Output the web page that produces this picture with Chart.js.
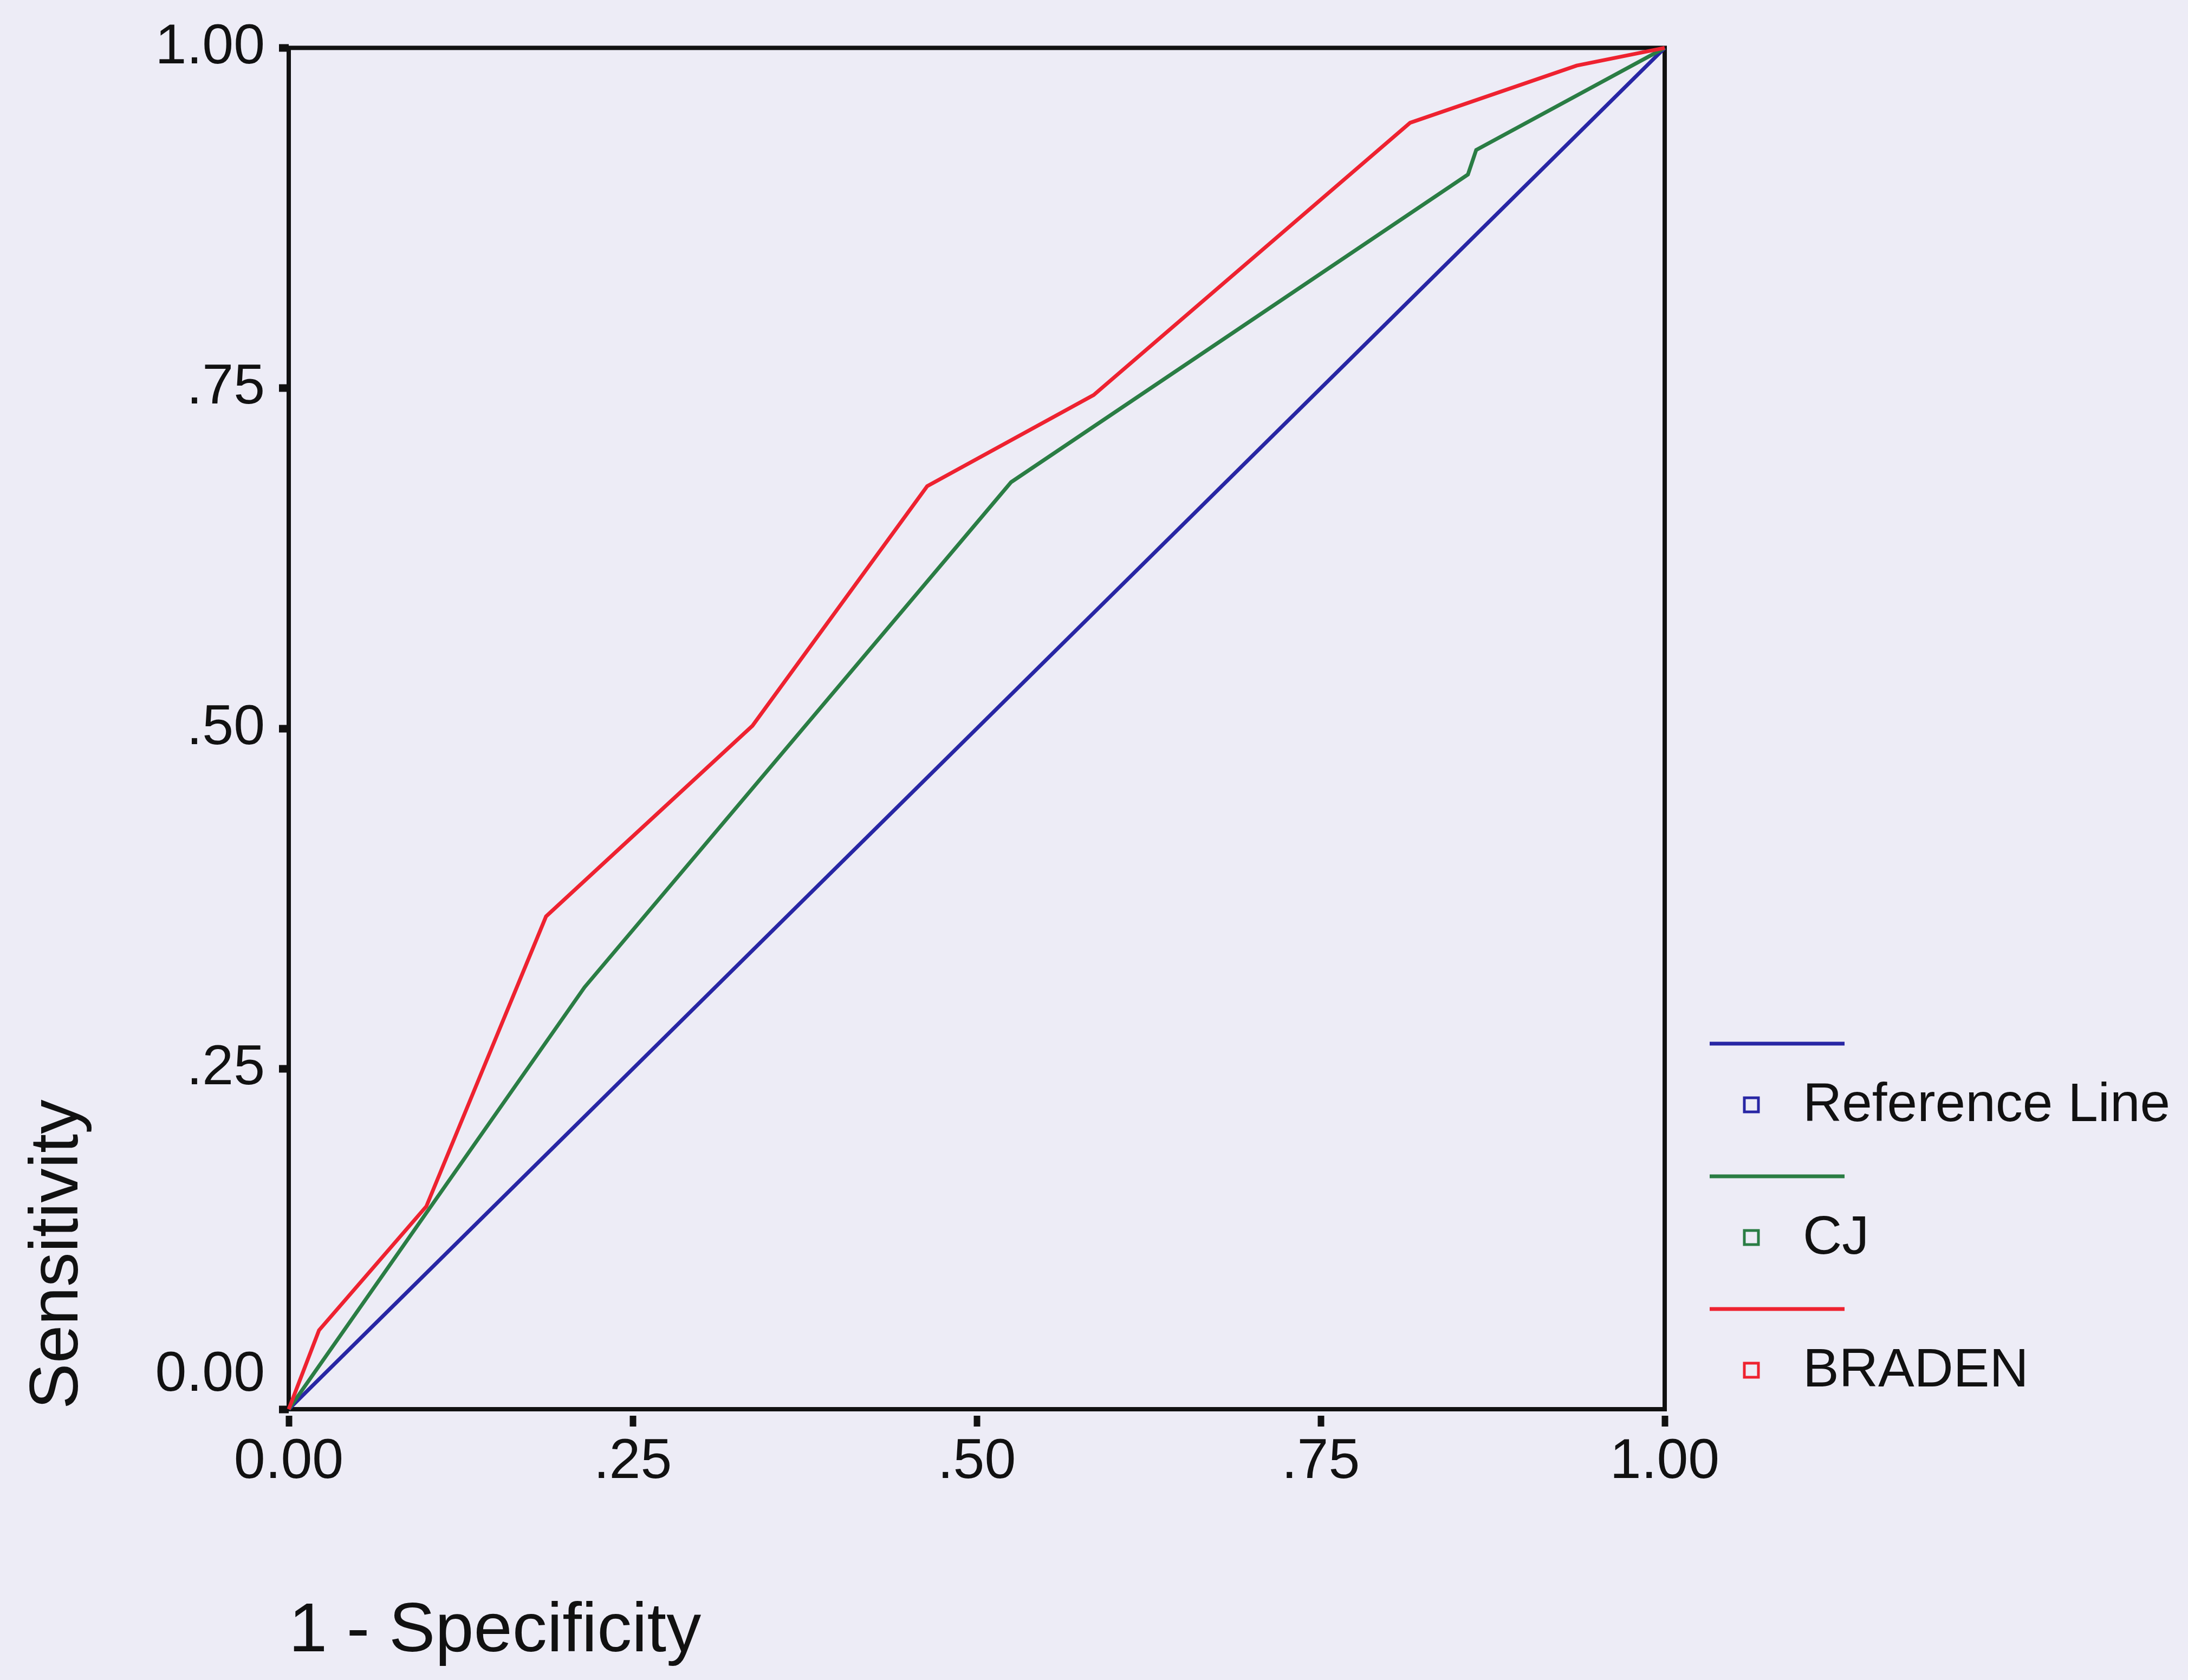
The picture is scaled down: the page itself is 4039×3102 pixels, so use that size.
<!DOCTYPE html>
<html>
<head>
<meta charset="utf-8">
<script src="https://cdn.jsdelivr.net/npm/chart.js@4.4.1/dist/chart.umd.min.js"></script>
<style>
  html, body { margin: 0; padding: 0; background: #edecf6; overflow: hidden; }
  canvas { display: block; }
</style>
</head>
<body>
<canvas id="c" width="4039" height="3102" style="width:4039px;height:3102px"></canvas>
<script>
// ---- Data ----
const seriesNames = ['Reference Line', 'CJ', 'BRADEN'];
const fprRef = [0, 1];
const tprRef = [0, 1];
const fprCJ = [0, 0.215, 0.525, 0.857, 0.863, 1];
const tprCJ = [0, 0.310, 0.681, 0.907, 0.925, 1];
const fprBraden = [0, 0.022, 0.100, 0.187, 0.337, 0.464, 0.585, 0.815, 0.936, 1];
const tprBraden = [0, 0.058, 0.149, 0.362, 0.502, 0.678, 0.745, 0.945, 0.987, 1];
const xTickLabels = ['0.00', '.25', '.50', '.75', '1.00'];
const yTickLabels = ['0.00', '.25', '.50', '.75', '1.00'];
const xTitle = '1 - Specificity';
const yTitle = 'Sensitivity';

const colors = ['#2826a4', '#2a7d44', '#ee2230'];
const FONT = '"Liberation Sans", Arial, Helvetica, sans-serif';

function pts(xs, ys) { return xs.map((x, i) => ({ x: x, y: ys[i] })); }

const bgPlugin = {
  id: 'bg',
  beforeDraw(chart) {
    const ctx = chart.ctx;
    ctx.save();
    ctx.fillStyle = '#edecf6';
    ctx.fillRect(0, 0, chart.width, chart.height);
    ctx.restore();
  }
};

const framePlugin = {
  id: 'frame',
  beforeDatasetsDraw(chart) {
    const a = chart.chartArea, ctx = chart.ctx;
    ctx.save();
    ctx.strokeStyle = '#111111';
    ctx.lineWidth = 8;
    ctx.strokeRect(a.left, a.top, a.right - a.left, a.bottom - a.top);
    ctx.restore();
  }
};

const legendPlugin = {
  id: 'sideLegend',
  afterDraw(chart) {
    const ctx = chart.ctx, a = chart.chartArea;
    const x0 = a.right + 83;
    const top = 1927;
    const step = 245;
    ctx.save();
    chart.data.datasets.forEach((ds, i) => {
      const y = top + i * step;
      ctx.strokeStyle = ds.borderColor;
      ctx.lineWidth = 7;
      ctx.beginPath();
      ctx.moveTo(x0, y);
      ctx.lineTo(x0 + 249, y);
      ctx.stroke();
      ctx.lineWidth = 5;
      ctx.strokeRect(x0 + 64, y + 100, 26, 26);
      ctx.fillStyle = '#111111';
      ctx.font = '100px ' + FONT;
      ctx.textAlign = 'left';
      ctx.textBaseline = 'middle';
      ctx.fillText(ds.label, x0 + 172, y + 115);
    });
    ctx.restore();
  }
};

new Chart(document.getElementById('c'), {
  type: 'line',
  data: {
    datasets: [
      { label: seriesNames[0], data: pts(fprRef, tprRef), borderColor: colors[0], order: 2 },
      { label: seriesNames[1], data: pts(fprCJ, tprCJ), borderColor: colors[1], order: 1 },
      { label: seriesNames[2], data: pts(fprBraden, tprBraden), borderColor: colors[2], order: 0 }
    ].map(d => Object.assign(d, {
      borderWidth: 7, pointRadius: 0, tension: 0, fill: false, clip: 12, backgroundColor: d.borderColor
    }))
  },
  options: {
    responsive: false,
    devicePixelRatio: 1,
    animation: false,
    events: [],
    layout: { padding: { top: 82, right: 966, bottom: 0, left: 0 } },
    plugins: { legend: { display: false }, tooltip: { enabled: false } },
    scales: {
      x: {
        type: 'linear', min: 0, max: 1,
        afterFit(s) { s.height = 500; },
        border: { display: false },
        grid: { drawOnChartArea: false, drawTicks: true, tickLength: 32, tickWidth: 12,
                tickColor: '#111111', tickBorderDash: [0, 12, 20] },
        ticks: {
          stepSize: 0.25, padding: 4, color: '#111111', maxRotation: 0, autoSkip: false,
          font: { family: FONT, size: 104 },
          callback(v, i) { return xTickLabels[i]; }
        },
        title: { display: true, text: xTitle, align: 'start', color: '#111111',
                 font: { family: FONT, size: 128 }, padding: { top: 0, bottom: 11 } }
      },
      y: {
        type: 'linear', min: 0, max: 1,
        afterFit(s) { s.width = 533; },
        border: { display: false },
        grid: { drawOnChartArea: false, drawTicks: true, tickLength: 18, tickWidth: 14, tickColor: '#111111' },
        ticks: {
          stepSize: 0.25, padding: 26, color: '#111111', autoSkip: false,
          font: { family: FONT, size: 104 },
          callback(v, i) { return i === 0 ? [yTickLabels[i], ''] : yTickLabels[i]; }
        },
        title: { display: true, text: yTitle, align: 'start', color: '#111111',
                 font: { family: FONT, size: 127 }, padding: { top: 32, bottom: 0 } }
      }
    }
  },
  plugins: [bgPlugin, framePlugin, legendPlugin]
});
</script>
</body>
</html>
